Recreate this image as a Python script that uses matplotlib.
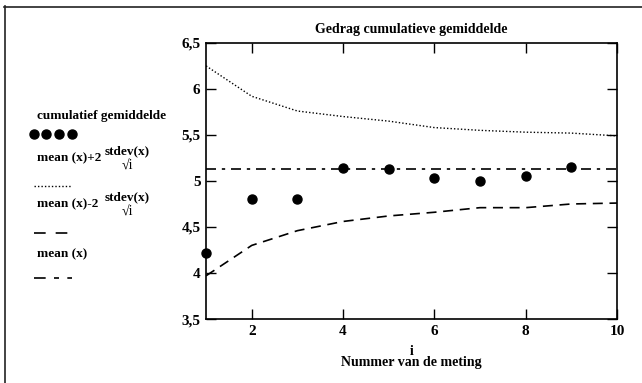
import matplotlib
matplotlib.use('Agg')
import matplotlib.pyplot as plt
from matplotlib.lines import Line2D
from matplotlib.ticker import FuncFormatter

plt.rcParams['font.family'] = ['Liberation Serif', 'DejaVu Serif']
plt.rcParams['font.weight'] = 'bold'

# measurements
meting = [1, 2, 3, 4, 5, 6, 7, 8, 9]
cumulatief = [4.22, 4.80, 4.80, 5.14, 5.13, 5.03, 5.00, 5.05, 5.15]
grens_i = [1, 2, 3, 4, 5, 6, 7, 8, 9, 10]
boven = [6.25, 5.92, 5.76, 5.70, 5.65, 5.58, 5.55, 5.53, 5.52, 5.49]
onder = [3.97, 4.30, 4.46, 4.56, 4.62, 4.66, 4.71, 4.71, 4.75, 4.76]
gemiddelde = 5.13

x_ticks = [2, 4, 6, 8, 10]
y_ticks = [3.5, 4, 4.5, 5, 5.5, 6, 6.5]

fig = plt.figure(figsize=(6.42, 3.83), dpi=100)
ax = fig.add_axes([0.321, 0.167, 0.640, 0.721])

dotted = (0, (1, 1.5))
dashed = (0, (6, 4))
dashdot = (0, (6, 3.5, 2, 3.5))

ax.plot(meting, cumulatief, 'o', color='black', markersize=6.5, clip_on=False)
ax.plot(grens_i, boven, color='black', linewidth=1, linestyle=dotted)
ax.plot(grens_i, onder, color='black', linewidth=1.2, linestyle=dashed)
ax.axhline(gemiddelde, color='black', linewidth=1.2, linestyle=dashdot)

ax.set_xlim(1, 10)
ax.set_ylim(3.5, 6.5)
ax.set_xticks(x_ticks)
ax.set_yticks(y_ticks)
comma = FuncFormatter(lambda v, pos: ('%g' % v).replace('.', ','))
ax.yaxis.set_major_formatter(comma)
ax.tick_params(direction='in', length=7, width=1, top=True, right=True,
               labelsize=11, pad=4)
for lbl in ax.get_xticklabels() + ax.get_yticklabels():
    lbl.set_fontweight('bold')
for s in ax.spines.values():
    s.set_linewidth(1.2)

ax.set_title('Gedrag cumulatieve gemiddelde', fontsize=10, fontweight='bold', pad=7)
ax.set_xlabel('i\nNummer van de meting', fontsize=10, fontweight='bold',
              linespacing=0.85, labelpad=5)

# legend drawn by hand at the left
W, H = 642.0, 383.0


def fx(px):
    return px / W


def fy(py):
    return 1 - py / H


fs = 9.5
fig.text(fx(37), fy(116), 'cumulatief gemiddelde', fontsize=fs, fontweight='bold', va='center')
fig.add_artist(Line2D([fx(34), fx(46.5), fx(59), fx(71.5)], [fy(134)] * 4, marker='o',
                      linestyle='none', color='black', markersize=6.5))

for ytxt, sign in [(158, '+'), (204, '-')]:
    fig.text(fx(37), fy(ytxt), 'mean (x)%s2' % sign, fontsize=fs, fontweight='bold', va='center')
    fig.text(fx(127), fy(ytxt - 7), 'stdev(x)', fontsize=fs, fontweight='bold',
             va='center', ha='center')
    fig.text(fx(127), fy(ytxt + 8), '\u221ai', fontsize=fs + 0.5, fontweight='normal',
             va='center', ha='center')

fig.add_artist(Line2D([fx(34), fx(72)], [fy(186)] * 2, color='black', linewidth=1,
                      linestyle=dotted))
fig.add_artist(Line2D([fx(34), fx(72)], [fy(233)] * 2, color='black', linewidth=1.2,
                      linestyle=(0, (7, 6))))
fig.text(fx(37), fy(254), 'mean (x)', fontsize=fs, fontweight='bold', va='center')
fig.add_artist(Line2D([fx(34), fx(72)], [fy(278)] * 2, color='black', linewidth=1.2,
                      linestyle=(0, (7, 5, 3, 5))))

# frame lines at top and left
fig.add_artist(Line2D([fx(4), 1], [fy(6.5)] * 2, color='#222222', linewidth=1.2))
fig.add_artist(Line2D([fx(4.5)] * 2, [0, fy(6)], color='#222222', linewidth=1.2))

fig.savefig('out.png', dpi=100)
